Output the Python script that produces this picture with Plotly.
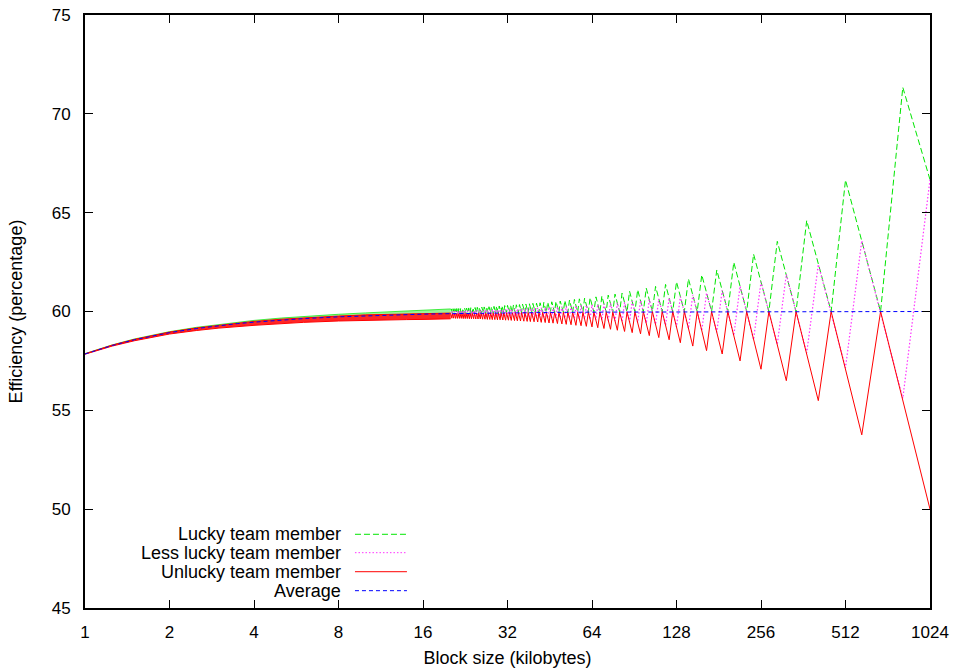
import plotly.graph_objects as go

# ---------------- data ----------------
tick_vals = [1, 2, 4, 8, 16, 32, 64, 128, 256, 512, 1024]
tick_text = ["1", "2", "4", "8", "16", "32", "64", "128", "256", "512", "1024"]

lucky_x = [1024, 819.2, 682.7, 512, 455.1, 372.4, 341.3, 292.6, 273.1, 240.9, 227.6, 204.8, 195.0,
           178.1, 170.7, 157.5, 151.7, 141.2, 136.5, 128, 124.1, 117.0, 113.8, 107.8, 105.0, 99.9,
           97.5, 93.1, 91.0, 87.1, 85.3, 81.9, 80.3, 77.3, 75.9, 73.1, 71.9, 69.4, 68.3, 66.1, 65.0,
           63.0, 62.1, 60.2, 59.4, 57.7, 56.9, 55.4, 54.6, 53.2, 52.5, 51.2, 50.6, 49.3, 48.8, 47.6,
           47.1, 46.0, 45.5, 44.5, 44.0, 43.1, 42.7, 41.8, 41.4, 40.6, 40.2, 39.4, 39.0, 38.3, 37.9,
           37.2, 36.9, 36.2, 35.9, 35.3, 35.0, 34.4, 34.1, 33.6, 33.3, 32.8, 32.5,
           32.0, 31.75, 31.27, 31.03, 30.57, 30.34, 29.90, 29.68, 29.26, 29.05, 28.64, 28.44,
           28.05, 27.86, 27.49, 27.31, 26.95, 26.77, 26.43, 26.26, 25.92, 25.76, 25.44, 25.28,
           24.98, 24.82, 24.53, 24.38, 24.09, 23.95, 23.68, 23.54, 23.27, 23.14, 22.88, 22.76,
           22.51, 22.38, 22.14, 22.02, 21.79, 21.67, 21.45, 21.33, 21.11, 21.01, 20.79, 20.69,
           20.48, 20.38, 20.18, 20.08]
lucky_y = [66.67, 71.34, 60, 66.65, 60, 64.6, 60, 63.55, 60, 62.9, 60, 62.49, 60,
           62.1, 60, 61.85, 60, 61.65, 60, 61.5, 60, 61.37, 60, 61.27, 60, 61.18,
           59.99, 61.1, 59.98, 61.02, 59.98, 60.93, 59.97, 60.88, 59.97, 60.83, 59.97, 60.78, 59.97, 60.74, 59.97,
           60.70, 59.97, 60.67, 59.96, 60.64, 59.96, 60.61, 59.96, 60.58, 59.96, 60.56, 59.96, 60.53, 59.96, 60.51,
           59.95, 60.49, 59.95, 60.47, 59.95, 60.46, 59.95, 60.44, 59.95, 60.42, 59.95, 60.41, 59.94, 60.39, 59.94,
           60.38, 59.94, 60.37, 59.94, 60.35, 59.94, 60.34, 59.94, 60.33, 59.94, 60.32, 59.93,
           60.31, 59.93, 60.30, 59.93, 60.29, 59.93, 60.28, 59.93, 60.27, 59.93, 60.26, 59.92,
           60.25, 59.92, 60.24, 59.92, 60.24, 59.92, 60.23, 59.92, 60.22, 59.92, 60.21, 59.92,
           60.21, 59.91, 60.20, 59.91, 60.19, 59.91, 60.19, 59.91, 60.18, 59.91, 60.17, 59.91,
           60.17, 59.90, 60.16, 59.90, 60.16, 59.90, 60.15, 59.90, 60.15, 59.90, 60.14, 59.90,
           60.14, 59.89, 60.13, 59.89]

less_x = [1024, 819.2, 585.1, 512, 409.6, 372.4, 315.1, 292.6, 256, 240.9, 215.6, 204.8, 186.2, 178.1,
          163.8, 157.5, 146.3, 141.2, 132.1, 128, 120.5, 117.0, 110.7, 107.8, 102.4, 99.9, 95.3, 93.1,
          89.0, 87.1, 83.6, 81.9, 78.8, 77.3, 74.5, 73.1, 70.6, 69.4, 67.1, 66.1, 64, 63.0, 61.1, 60.2,
          58.5, 57.7, 56.1, 55.4, 53.9, 53.2, 51.8, 51.2, 50.0, 49.3, 48.2, 47.6, 46.5, 46.0, 45.0, 44.5,
          43.6, 43.1, 42.2, 41.8, 41.0, 40.6, 39.8, 39.4, 38.6, 38.3, 37.6, 37.2, 36.6, 36.2, 35.6, 35.3,
          34.7, 34.4, 33.9, 33.6, 33.0, 32.8,
          32.25, 32.0, 31.51, 31.27, 30.80, 30.57, 30.12, 29.90, 29.47, 29.26, 28.85, 28.64,
          28.25, 28.05, 27.68, 27.49, 27.13, 26.95, 26.60, 26.43, 26.09, 25.92, 25.6, 25.44,
          25.13, 24.98, 24.67, 24.53, 24.24, 24.09, 23.81, 23.68, 23.41, 23.27, 23.01, 22.88,
          22.63, 22.51, 22.26, 22.14, 21.90, 21.79, 21.56, 21.45, 21.22, 21.11, 20.90, 20.79,
          20.58, 20.48, 20.28, 20.18]
less_y = [66.67, 55.6, 63.58, 57.15, 62.38, 57.9, 61.88, 58.33, 61.5, 58.58, 61.28, 58.78, 61.07, 58.95,
          60.94, 59.03, 60.84, 59.14, 60.76, 59.22, 60.69, 59.30, 60.64, 59.35, 60.6, 59.40, 60.56, 59.44,
          60.52, 59.47, 60.46, 59.49, 60.43, 59.52, 60.41, 59.54, 60.38, 59.56, 60.36, 59.58, 60.34, 59.6, 60.32, 59.61,
          60.31, 59.62, 60.29, 59.64, 60.28, 59.65, 60.26, 59.66, 60.25, 59.67, 60.24, 59.68, 60.23, 59.68, 60.22, 59.69,
          60.2, 59.7, 60.2, 59.7, 60.19, 59.71, 60.18, 59.71, 60.17, 59.72, 60.16, 59.72, 60.15, 59.73, 60.15, 59.73,
          60.14, 59.74, 60.13, 59.74, 60.13, 59.74,
          60.12, 59.75, 60.12, 59.75, 60.11, 59.75, 60.11, 59.75, 60.10, 59.76, 60.09, 59.76,
          60.09, 59.76, 60.08, 59.76, 60.08, 59.76, 60.08, 59.76, 60.07, 59.77, 60.07, 59.77,
          60.06, 59.77, 60.06, 59.77, 60.05, 59.77, 60.05, 59.77, 60.05, 59.77, 60.04, 59.77,
          60.04, 59.77, 60.03, 59.77, 60.03, 59.77, 60.03, 59.77, 60.02, 59.77, 60.02, 59.77,
          60.02, 59.78, 60.01, 59.78]

unlucky_x = [1024, 682.7, 585.1, 455.1, 409.6, 341.3, 315.1, 273.1, 256, 227.6, 215.6, 195.0, 186.2,
             170.7, 163.8, 151.7, 146.3, 136.5, 132.1, 124.1, 120.5, 113.8, 110.7, 105.0, 102.4, 97.5,
             95.3, 91.0, 89.0, 85.3, 83.6, 80.3, 78.8, 75.9, 74.5, 71.9, 70.6, 68.3, 67.1, 65.0, 64,
             62.1, 61.1, 59.4, 58.5, 56.9, 56.1, 54.6, 53.9, 52.5, 51.8, 50.6, 50.0, 48.8, 48.2, 47.1,
             46.5, 45.5, 45.0, 44.0, 43.6, 42.7, 42.2, 41.4, 41.0, 40.2, 39.8, 39.0, 38.6, 37.9, 37.6,
             36.9, 36.6, 35.9, 35.6, 35.0, 34.7, 34.1, 33.9, 33.3, 33.0, 32.5,
             32.25, 31.75, 31.51, 31.03, 30.80, 30.34, 30.12, 29.68, 29.47, 29.05, 28.85, 28.44,
             28.25, 27.86, 27.68, 27.31, 27.13, 26.77, 26.60, 26.26, 26.09, 25.76, 25.6, 25.28,
             25.13, 24.82, 24.67, 24.38, 24.24, 23.95, 23.81, 23.54, 23.41, 23.14, 23.01, 22.76,
             22.63, 22.38, 22.26, 22.02, 21.90, 21.67, 21.56, 21.33, 21.22, 21.01, 20.90, 20.69,
             20.58, 20.38, 20.28, 20.08]
unlucky_y = [50, 60, 53.76, 60, 55.49, 60, 56.5, 60, 57.08, 60, 57.5, 60, 57.85,
             60, 58.02, 60, 58.25, 60, 58.42, 60, 58.57, 60, 58.68, 60, 58.78, 59.99,
             58.87, 59.98, 58.93, 59.98, 58.99, 59.97, 59.05, 59.97, 59.10, 59.97, 59.14, 59.97, 59.18, 59.97, 59.22,
             59.97, 59.25, 59.96, 59.28, 59.96, 59.30, 59.96, 59.33, 59.96, 59.35, 59.96, 59.37, 59.96, 59.39, 59.95,
             59.41, 59.95, 59.42, 59.95, 59.44, 59.95, 59.45, 59.95, 59.47, 59.95, 59.48, 59.94, 59.49, 59.94, 59.50,
             59.94, 59.51, 59.94, 59.52, 59.94, 59.53, 59.94, 59.54, 59.94, 59.55, 59.93,
             59.56, 59.93, 59.56, 59.93, 59.57, 59.93, 59.58, 59.93, 59.58, 59.93, 59.59, 59.92,
             59.59, 59.92, 59.60, 59.92, 59.60, 59.92, 59.61, 59.92, 59.61, 59.92, 59.62, 59.92,
             59.62, 59.91, 59.62, 59.91, 59.63, 59.91, 59.63, 59.91, 59.63, 59.91, 59.64, 59.91,
             59.64, 59.90, 59.64, 59.90, 59.65, 59.90, 59.65, 59.90, 59.65, 59.90, 59.65, 59.90,
             59.66, 59.89, 59.66, 59.89]

# dense region (teeth narrower than a pixel): envelopes
band_x = [1, 1.25, 1.5, 2, 2.5, 3, 4, 5, 6, 8, 10, 12, 14, 16, 18, 20.08]
band_mid = [57.85, 58.28, 58.57, 58.93, 59.14, 59.28, 59.46, 59.57, 59.64, 59.73, 59.785, 59.82,
            59.85, 59.866, 59.88, 59.893]
lucky_top = [57.87, 58.31, 58.61, 58.98, 59.2, 59.35, 59.55, 59.67, 59.75, 59.86, 59.93, 59.98,
             60.02, 60.06, 60.1, 60.13]
unlucky_top = [57.86, 58.3, 58.59, 58.96, 59.17, 59.31, 59.5, 59.61, 59.68, 59.77, 59.83, 59.86,
               59.88, 59.9, 59.91, 59.92]
unlucky_bottom = [57.84, 58.25, 58.52, 58.86, 59.04, 59.16, 59.3, 59.39, 59.45, 59.52, 59.56, 59.58,
                  59.59, 59.6, 59.61, 59.63]

avg_x = [1, 1.25, 1.5, 1.75, 2, 2.5, 3, 3.5, 4, 5, 6, 8, 10, 12, 16, 20, 24, 32, 48, 64, 128, 1024]
avg_y = [57.85, 58.28, 58.57, 58.77, 58.93, 59.14, 59.28, 59.39, 59.46, 59.57, 59.64, 59.73, 59.785,
         59.82, 59.866, 59.89, 59.91, 59.934, 59.955, 59.967, 59.985, 60.0]

legend_labels = ["Lucky team member", "Less lucky team member", "Unlucky team member", "Average"]

# ---------------- styles ----------------
GREEN = "#00e600"
PINK = "#ff33ff"
RED = "#ff0000"
BLUE = "#0000ff"
dashes = ["6px,3px", "1.5px,2px", "solid", "4px,3px"]
colors = [GREEN, PINK, RED, BLUE]
FONT = "Liberation Sans, Arial, Helvetica, sans-serif"
FS = 18
FS_TICK = 17

fig = go.Figure()

# lucky: dense band then zigzag
fig.add_trace(go.Scatter(x=band_x, y=band_mid, mode="lines", line=dict(width=0, color=GREEN),
                         showlegend=False, hoverinfo="skip"))
fig.add_trace(go.Scatter(x=band_x, y=lucky_top, mode="lines", fill="tonexty",
                         fillcolor="rgba(0,230,0,0.4)", line=dict(width=1, color="rgba(0,230,0,0.7)"),
                         showlegend=False, hoverinfo="skip"))
fig.add_trace(go.Scatter(x=lucky_x, y=lucky_y, mode="lines",
                         line=dict(width=1, color=GREEN, dash=dashes[0]), showlegend=False))
# less lucky
fig.add_trace(go.Scatter(x=less_x, y=less_y, mode="lines",
                         line=dict(width=1.2, color=PINK, dash=dashes[1]), showlegend=False))
# unlucky: dense band then zigzag
fig.add_trace(go.Scatter(x=band_x, y=unlucky_top, mode="lines", line=dict(width=1, color=RED),
                         showlegend=False, hoverinfo="skip"))
fig.add_trace(go.Scatter(x=band_x, y=unlucky_bottom, mode="lines", fill="tonexty",
                         fillcolor="rgba(255,0,0,0.85)", line=dict(width=1, color=RED),
                         showlegend=False, hoverinfo="skip"))
fig.add_trace(go.Scatter(x=unlucky_x, y=unlucky_y, mode="lines",
                         line=dict(width=1, color=RED), showlegend=False))
# average
fig.add_trace(go.Scatter(x=avg_x, y=avg_y, mode="lines",
                         line=dict(width=1, color=BLUE, dash=dashes[3]), showlegend=False))

# custom gnuplot-style key (text right-aligned, sample to the right)
row_y = [0.1243, 0.0933, 0.0612, 0.0292]
shapes = []
annotations = []
for lab, yy, col, d in zip(legend_labels, row_y, colors, dashes):
    annotations.append(dict(x=0.3053, y=yy, xref="paper", yref="paper", text=lab, showarrow=False,
                            xanchor="right", yanchor="middle",
                            font=dict(family=FONT, size=FS, color="black")))
    shapes.append(dict(type="line", xref="paper", yref="paper", x0=0.3195, x1=0.381, y0=yy, y1=yy,
                       line=dict(color=col, width=1, dash=d)))

fig.update_layout(
    width=955, height=669,
    margin=dict(l=85, r=25, t=15, b=61, autoexpand=False),
    paper_bgcolor="white", plot_bgcolor="white",
    font=dict(family=FONT, size=FS, color="black"),
    shapes=shapes, annotations=annotations,
    showlegend=False,
)
fig.update_xaxes(type="log", range=[0, 3.0103], tickvals=tick_vals, ticktext=tick_text,
                 ticks="inside", ticklen=8, tickwidth=1, tickcolor="black",
                 showline=True, linecolor="black", linewidth=2, mirror="ticks",
                 showgrid=False, zeroline=False, ticklabelstandoff=8, automargin=False,
                 tickfont=dict(family=FONT, size=FS_TICK),
                 title=dict(text="Block size (kilobytes)", standoff=10,
                            font=dict(family=FONT, size=FS)))
fig.update_yaxes(range=[45, 75], dtick=5, tick0=45,
                 ticks="inside", ticklen=8, tickwidth=1, tickcolor="black",
                 showline=True, linecolor="black", linewidth=2, mirror="ticks",
                 showgrid=False, zeroline=False, ticklabelstandoff=9, automargin=False,
                 tickfont=dict(family=FONT, size=FS_TICK),
                 title=dict(text="Efficiency (percentage)", standoff=24,
                            font=dict(family=FONT, size=FS)))

fig.write_html("out.html")
